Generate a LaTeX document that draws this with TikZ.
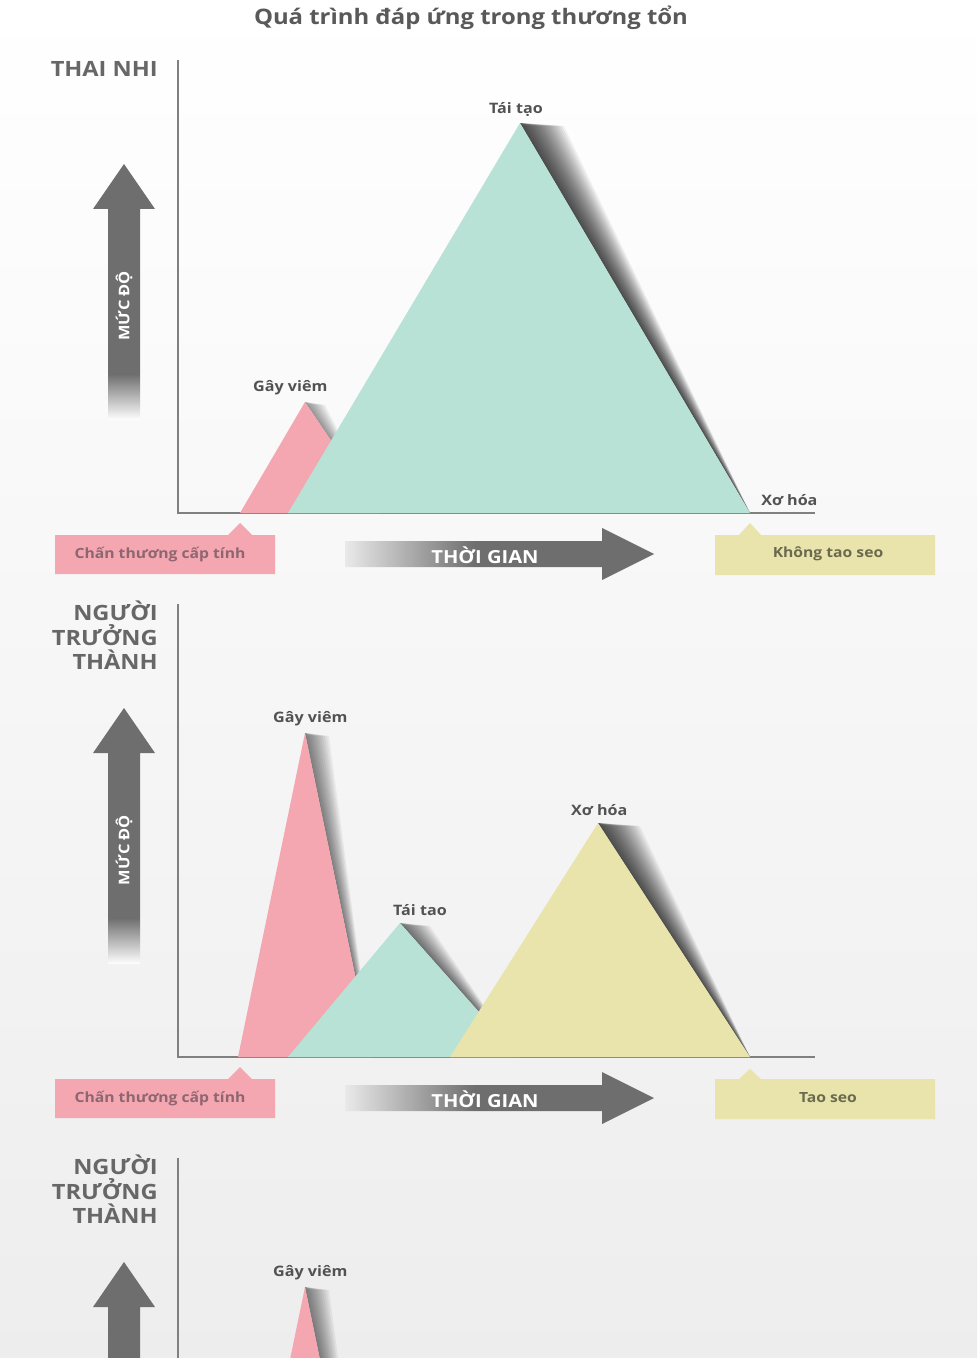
\documentclass[tikz,border=0pt]{standalone}
\usepackage{fontspec}
\setmainfont{Open Sans}[FakeStretch=1.12]
\usetikzlibrary{positioning}

\definecolor{injurypink}{HTML}{F4A6B1}
\definecolor{regenteal}{HTML}{B7E2D5}
\definecolor{scaryellow}{HTML}{E8E4AC}
\definecolor{arrowgray}{HTML}{6E6E6E}
\definecolor{labelgray}{HTML}{676767}
\definecolor{peakgray}{HTML}{525252}
\definecolor{pinktext}{HTML}{8C6670}
\definecolor{yellowtext}{HTML}{6C6A4E}

\pgfdeclareverticalshading{levelfade}{100bp}{color(0bp)=(white); color(25bp)=(white); color(34bp)=(arrowgray); color(100bp)=(arrowgray)}
\pgfdeclarehorizontalshading{timefade}{100bp}{color(0bp)=(white); color(25bp)=(white!85!arrowgray); color(46bp)=(arrowgray); color(100bp)=(arrowgray)}

\begin{document}
\begin{tikzpicture}[x=0.75pt, y=-0.75pt,
    axisline/.style={draw=black!50, line width=1.4pt},
    panellabel/.style={font=\bfseries\fontsize{15.8}{18.4}\selectfont, text=labelgray, align=right, inner sep=0pt},
    peaklabel/.style={font=\bfseries\fontsize{10.8}{12}\selectfont, text=peakgray, inner sep=0pt},
    leveltext/.style={font=\bfseries\fontsize{11}{13}\selectfont, text=white, rotate=90, inner sep=0pt},
    arrowtext/.style={font=\bfseries\fontsize{13.5}{15}\selectfont, text=white, inner sep=0pt},
    boxtext/.style={font=\bfseries\fontsize{10.5}{12}\selectfont, inner sep=0pt},
    shadowtone/.style={fill=black, fill opacity=0.05},
    levelarrow/.style={shading=levelfade},
    timearrow/.style={shading=timefade}]

    \useasboundingbox (0,0) rectangle (977,1358);
    \clip (0,0) rectangle (977,1358);

    % Background
    \shade[top color=white, bottom color=black!7] (0,0) rectangle (977,1358);

    % Title
    \node (title) [font=\bfseries\fontsize{16}{18}\selectfont, text=black!65, anchor=base] at (471,25) {Quá trình đáp ứng trong thương tổn};

    % Fetus
    \node (fetus) [panellabel, anchor=base east] at (158,77) {THAI NHI};
    \draw[axisline] (178,60) -- (178,513) -- (815,513);
    \shade[levelarrow] (108,420) -- (108,209) -- (93,209) -- (124,164) -- (155,209) -- (140,209) -- (140,420) -- cycle;
    \node (level1) [leveltext] at (124,306) {MỨC ĐỘ};

    \coordinate (infl1L) at (240,513);
    \coordinate (infl1T) at (305,402);
    \coordinate (infl1R) at (380,513);
    \coordinate (regen1L) at (288,513);
    \coordinate (regen1T) at (520,123);
    \coordinate (regen1R) at (750,513);

    \foreach \d in {2,4,...,20}
        \fill[shadowtone] (infl1T) -- ++(\d,3) -- (infl1R) -- cycle;
    \fill[injurypink] (infl1L) -- (infl1T) -- (infl1R) -- cycle;
    \foreach \d in {2,4,...,44}
        \fill[shadowtone] (regen1T) -- ++(\d,3) -- (regen1R) -- cycle;
    \fill[regenteal] (regen1L) -- (regen1T) -- (regen1R) -- cycle;

    \node (infl1lab) [peaklabel, above=5pt of infl1T, xshift=-11pt] {Gây viêm};
    \node (regen1lab) [peaklabel, above=5pt of regen1T, xshift=-3pt] {Tái tạo};
    \node (fib1lab) [peaklabel, anchor=base west] at (761,505) {Xơ hóa};

    \fill[injurypink] (55,535) -- (228,535) -- (240,523) -- (252,535) -- (275,535) -- (275,574) -- (55,574) -- cycle;
    \node (injury1) [boxtext, text=pinktext] at (160,554) {Chấn thương cấp tính};
    \shade[timearrow] (345,541) -- (602,541) -- (602,528) -- (654,554) -- (602,580) -- (602,567) -- (345,567) -- cycle;
    \node (time1) [arrowtext] at (485,555) {THỜI GIAN};
    \fill[scaryellow] (715,535) -- (739,535) -- (750,523) -- (761,535) -- (935,535) -- (935,575) -- (715,575) -- cycle;
    \node (noscar) [boxtext, text=yellowtext] at (828,554) {Không tao seo};

    % Adult
    \begin{scope}[shift={(0,544)}]
        \node (adult2) [panellabel, anchor=north east] at (158,57) {NGƯỜI\\TRƯỞNG\\THÀNH};
        \draw[axisline] (178,60) -- (178,513) -- (815,513);
        \shade[levelarrow] (108,420) -- (108,209) -- (93,209) -- (124,164) -- (155,209) -- (140,209) -- (140,420) -- cycle;
        \node (level2) [leveltext] at (124,306) {MỨC ĐỘ};

        \coordinate (infl2L) at (238,513);
        \coordinate (infl2T) at (305,189);
        \coordinate (infl2R) at (372,513);
        \coordinate (regen2L) at (288,513);
        \coordinate (regen2T) at (400,379);
        \coordinate (regen2R) at (519,513);
        \coordinate (fib2L) at (450,513);
        \coordinate (fib2T) at (598,279);
        \coordinate (fib2R) at (750,513);

        \foreach \d in {2,4,...,24}
            \fill[shadowtone] (infl2T) -- ++(\d,3) -- (infl2R) -- cycle;
        \fill[injurypink] (infl2L) -- (infl2T) -- (infl2R) -- cycle;
        \foreach \d in {2,4,...,30}
            \fill[shadowtone] (regen2T) -- ++(\d,3) -- (regen2R) -- cycle;
        \fill[regenteal] (regen2L) -- (regen2T) -- (regen2R) -- cycle;
        \foreach \d in {2,4,...,42}
            \fill[shadowtone] (fib2T) -- ++(\d,3) -- (fib2R) -- cycle;
        \fill[scaryellow] (fib2L) -- (fib2T) -- (fib2R) -- cycle;

        \node (infl2lab) [peaklabel, above=5pt of infl2T, xshift=4pt] {Gây viêm};
        \node (regen2lab) [peaklabel, above=5pt of regen2T, xshift=15pt] {Tái tao};
        \node (fib2lab) [peaklabel, above=5pt of fib2T, xshift=1pt] {Xơ hóa};

        \fill[injurypink] (55,535) -- (228,535) -- (240,523) -- (252,535) -- (275,535) -- (275,574) -- (55,574) -- cycle;
        \node (injury2) [boxtext, text=pinktext] at (160,554) {Chấn thương cấp tính};
        \shade[timearrow] (345,541) -- (602,541) -- (602,528) -- (654,554) -- (602,580) -- (602,567) -- (345,567) -- cycle;
        \node (time2) [arrowtext] at (485,555) {THỜI GIAN};
        \fill[scaryellow] (715,535) -- (739,535) -- (750,525) -- (761,535) -- (935,535) -- (935,575) -- (715,575) -- cycle;
        \node (scar) [boxtext, text=yellowtext] at (828,554) {Tao seo};
    \end{scope}

    % Adult, second chart
    \begin{scope}[shift={(0,1098)}]
        \node (adult3) [panellabel, anchor=north east] at (158,57) {NGƯỜI\\TRƯỞNG\\THÀNH};
        \draw[axisline] (178,60) -- (178,300);
        \shade[levelarrow] (108,420) -- (108,209) -- (93,209) -- (124,164) -- (155,209) -- (140,209) -- (140,420) -- cycle;

        \coordinate (infl3L) at (238,513);
        \coordinate (infl3T) at (305,189);
        \coordinate (infl3R) at (372,513);
        \foreach \d in {2,4,...,24}
            \fill[shadowtone] (infl3T) -- ++(\d,3) -- (infl3R) -- cycle;
        \fill[injurypink] (infl3L) -- (infl3T) -- (infl3R) -- cycle;
        \node (infl3lab) [peaklabel, above=5pt of infl3T, xshift=4pt] {Gây viêm};
    \end{scope}
\end{tikzpicture}
\end{document}
